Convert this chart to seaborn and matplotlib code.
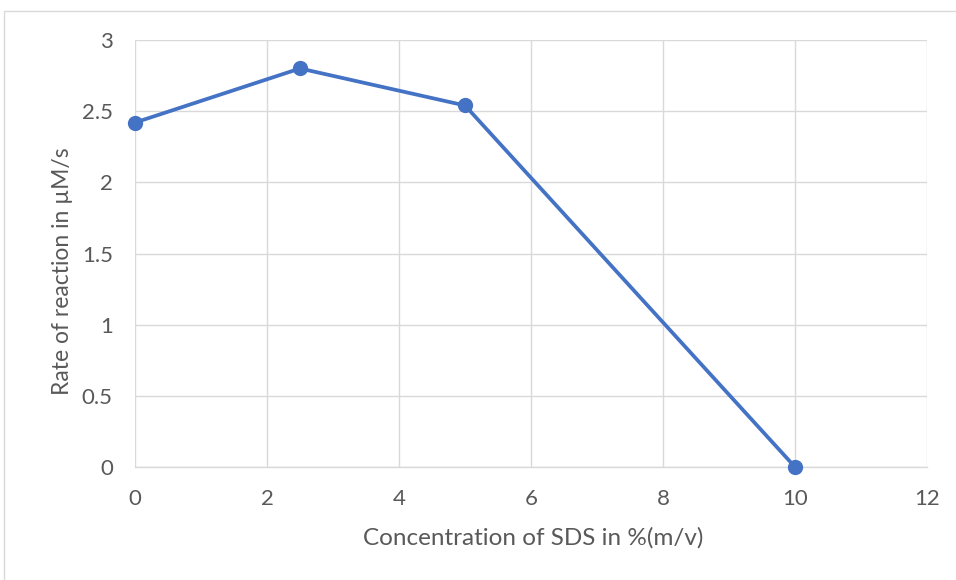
import matplotlib
matplotlib.use("Agg")
import matplotlib.pyplot as plt
import seaborn as sns
import pandas as pd
from matplotlib.patches import Rectangle

concentration = [0, 2.5, 5, 10]
rate = [2.42, 2.80, 2.54, 0.0]
x_ticks = [0, 2, 4, 6, 8, 10, 12]
y_ticks = [0, 0.5, 1, 1.5, 2, 2.5, 3]
y_tick_labels = ["0", "0.5", "1", "1.5", "2", "2.5", "3"]

sns.set_theme(style="white")
plt.rcParams["font.family"] = ["Lato", "DejaVu Sans"]

df = pd.DataFrame({"conc": concentration, "rate": rate})

fig = plt.figure(figsize=(9.56, 5.8), dpi=100)
ax = fig.add_axes([135 / 956, 1 - 467 / 580, (927 - 135) / 956, (467 - 40) / 580])

# chart frame
fig.patches.append(Rectangle((4 / 956, -0.1), 1.1, 1 - 11 / 580 + 0.1,
                             transform=fig.transFigure, fill=False,
                             edgecolor="#d9d9d9", linewidth=1.0, zorder=0))

sns.lineplot(data=df, x="conc", y="rate", ax=ax, color="#4472C4",
             linewidth=2.7, marker="o", markersize=11, markeredgewidth=0,
             clip_on=False, zorder=3)

ax.set_xlim(0, 12)
ax.set_ylim(0, 3)
ax.set_xticks(x_ticks)
ax.set_yticks(y_ticks)
ax.set_yticklabels(y_tick_labels)
ax.grid(True, color="#d9d9d9", linewidth=1.0)
ax.set_axisbelow(True)
for side in ["top", "right", "left"]:
    ax.spines[side].set_visible(False)
ax.spines["bottom"].set_color("#d9d9d9")
ax.spines["bottom"].set_linewidth(1.0)
ax.tick_params(axis="both", length=0, labelsize=16, colors="#595959")
ax.tick_params(axis="x", pad=16)
ax.tick_params(axis="y", pad=16)

ax.set_xlabel("Concentration of SDS in %(m/v)", fontsize=17.5, color="#595959")
ax.set_ylabel("Rate of reaction in µM/s", fontsize=16.5, color="#595959")
ax.xaxis.set_label_coords(0.5025, -0.166)
ax.yaxis.set_label_coords(-0.092, 0.459)
ax.xaxis.label.set_va("center")
ax.yaxis.label.set_va("center")

fig.savefig("out.png", dpi=100)
